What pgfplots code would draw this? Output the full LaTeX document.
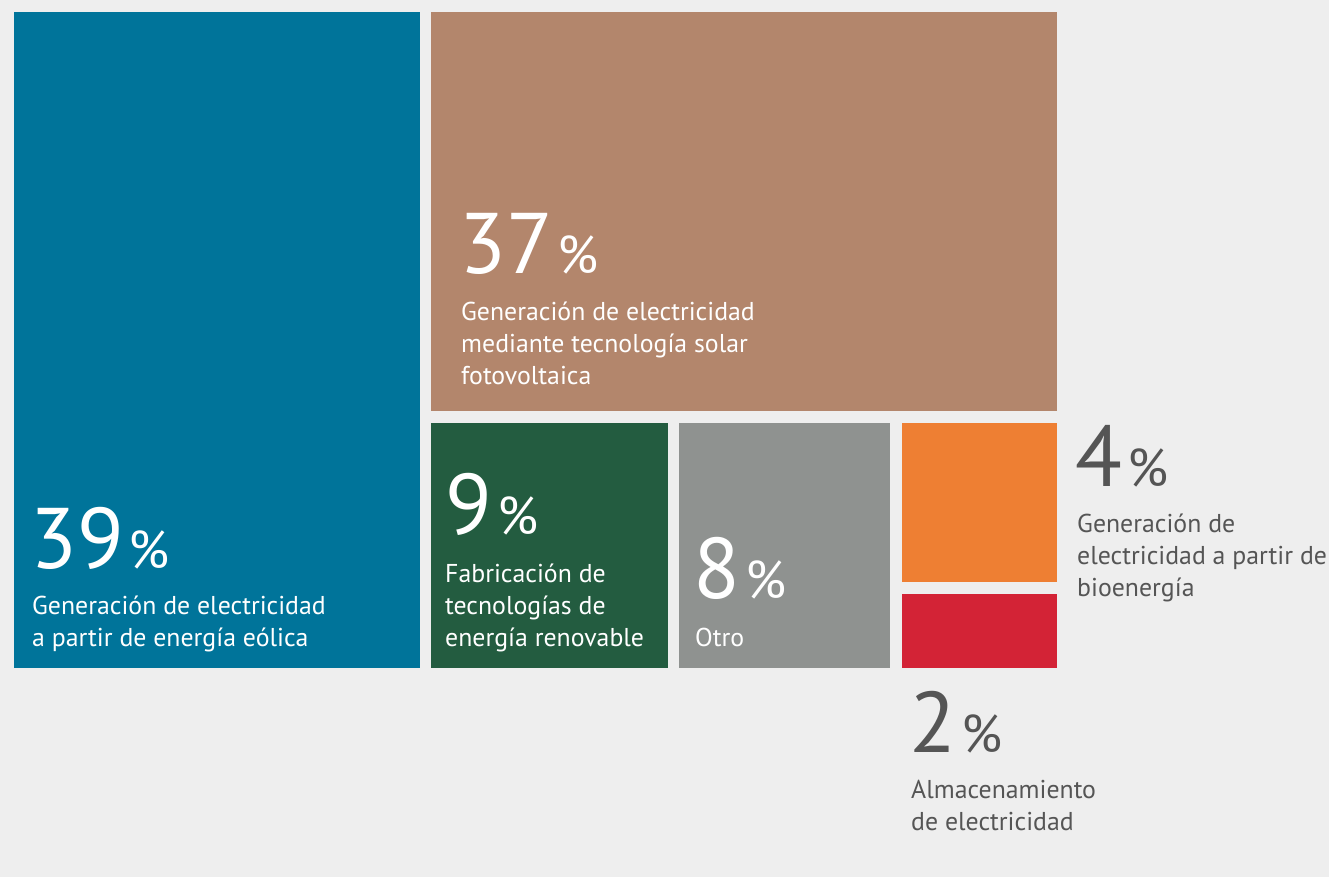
\documentclass[border=0pt]{standalone}
\usepackage{fontspec}
\setmainfont{PT Sans}
\usepackage{pgfplots}
\pgfplotsset{compat=1.18}
\definecolor{bg}{HTML}{EEEEEE}
\definecolor{wind}{HTML}{00749A}
\definecolor{solar}{HTML}{B3866C}
\definecolor{manuf}{HTML}{235C40}
\definecolor{other}{HTML}{8F9290}
\definecolor{bio}{HTML}{EE7F33}
\definecolor{stor}{HTML}{D32336}
\definecolor{txt}{HTML}{555555}
\newcommand{\bignum}[1]{\fontsize{86}{86}\selectfont #1\hspace{5pt}\fontsize{53}{53}\selectfont\%}
\begin{document}
\begin{tikzpicture}
\begin{axis}[
  width=1329pt, height=877pt, scale only axis,
  xmin=0, xmax=1329, ymin=0, ymax=877, y dir=reverse,
  hide axis, clip=false,
]
% background
\addplot[fill=bg, draw=none] coordinates {(0,0) (1329,0) (1329,877) (0,877)};
% treemap tiles (pixel corners)
\addplot[fill=wind, draw=none] coordinates {(14,12) (420,12) (420,668) (14,668)};
\addplot[fill=solar, draw=none] coordinates {(431,12) (1057,12) (1057,411) (431,411)};
\addplot[fill=manuf, draw=none] coordinates {(431,423) (668,423) (668,668) (431,668)};
\addplot[fill=other, draw=none] coordinates {(679,423) (890,423) (890,668) (679,668)};
\addplot[fill=bio, draw=none] coordinates {(902,423) (1057,423) (1057,582) (902,582)};
\addplot[fill=stor, draw=none] coordinates {(902,594) (1057,594) (1057,668) (902,668)};

\tikzset{lab/.style={anchor=base west, inner sep=0pt, font=\fontsize{25.8}{30}\selectfont}}
% 39
\node[lab, white] at (axis cs:30,568) {\bignum{39}};
\node[lab, white] at (axis cs:32,614) {Generación de electricidad};
\node[lab, white] at (axis cs:32,646) {a partir de energía eólica};
% 37
\node[lab, white] at (axis cs:459,273) {\bignum{37}};
\node[lab, white] at (axis cs:461,320) {Generación de electricidad};
\node[lab, white] at (axis cs:461,352) {mediante tecnología solar};
\node[lab, white] at (axis cs:461,384) {fotovoltaica};
% 9
\node[lab, white] at (axis cs:445,534) {\bignum{9}};
\node[lab, white] at (axis cs:445,582) {Fabricación de};
\node[lab, white] at (axis cs:445,614) {tecnologías de};
\node[lab, white] at (axis cs:445,646) {energía renovable};
% 8
\node[lab, white] at (axis cs:693,598) {\bignum{8}};
\node[lab, white] at (axis cs:695,646) {Otro};
% 4
\node[lab, txt] at (axis cs:1075,486) {\bignum{4}};
\node[lab, txt] at (axis cs:1077,532) {Generación de};
\node[lab, txt] at (axis cs:1077,564) {electricidad a partir de};
\node[lab, txt] at (axis cs:1077,596) {bioenergía};
% 2
\node[lab, txt] at (axis cs:909,752) {\bignum{2}};
\node[lab, txt] at (axis cs:911,798) {Almacenamiento};
\node[lab, txt] at (axis cs:911,830) {de electricidad};
\end{axis}
\end{tikzpicture}
\end{document}
